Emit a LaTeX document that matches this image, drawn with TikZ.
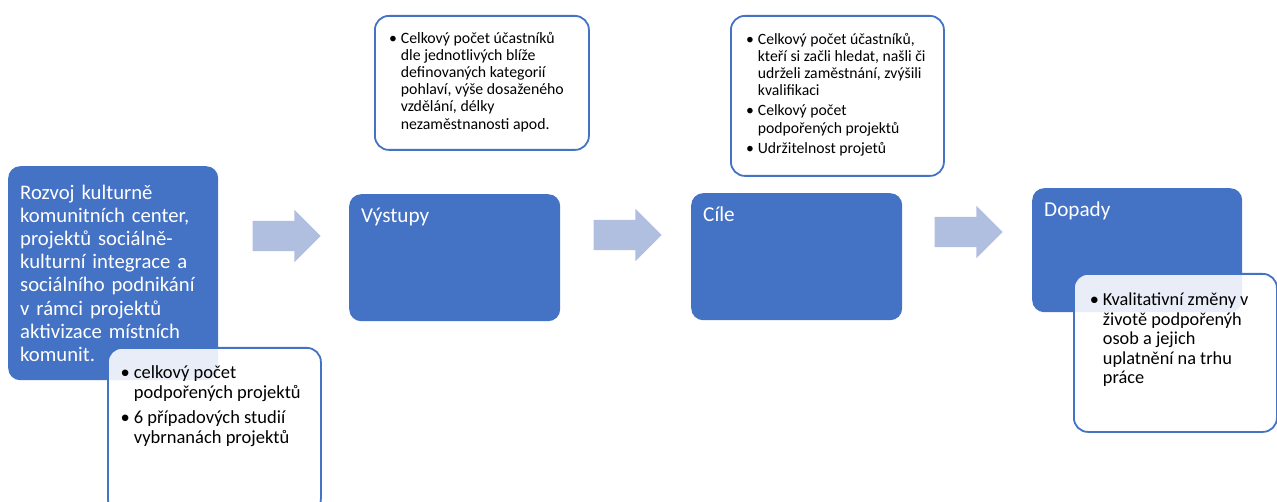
\documentclass[tikz,border=0pt]{standalone}
\usepackage{fontspec}
\setmainfont{Carlito}
\usepackage{enumitem}
\usepackage{tikz}
\usetikzlibrary{shapes.arrows, positioning}
\definecolor{stageblue}{HTML}{4472C4}
\definecolor{arrowblue}{HTML}{B0BEDF}
\tikzstyle{stage} = [rectangle, fill=stageblue, rounded corners=12pt, anchor=north west, inner sep=0pt, text=white]
\tikzstyle{note} = [rectangle, draw=stageblue, line width=1.8pt, fill=white, fill opacity=0.88, text opacity=1, rounded corners=14pt, anchor=north west, inner sep=0pt]
\tikzstyle{flowarrow} = [single arrow, fill=arrowblue, minimum height=68pt, minimum width=52pt, single arrow head extend=11pt, inner xsep=0pt, inner ysep=15pt]
\tikzstyle{heading} = [anchor=base west, inner sep=0pt, text=white, font=\fontsize{21.2}{24}\selectfont, xshift=12pt, yshift=-29pt]
\setlist[itemize]{label=\textbullet, topsep=0pt, partopsep=0pt, parsep=0pt, labelsep=4pt}
\newcommand{\notetext}[4]{\begin{minipage}[t][#2][t]{#1}\raggedright\vspace*{#3}#4\end{minipage}}

\begin{document}
\begin{tikzpicture}[x=1pt, y=-1pt]
            \useasboundingbox (0,0) rectangle (1277,502);
            % Nodes
            \node[stage, minimum width=210pt, minimum height=214pt, text width=186pt, align=left,
                  font=\fontsize{20.7}{23.2}\selectfont] (rozvoj) at (8,166)
                {Rozvoj kulturně\\ komunitních center,\\ projektů sociálně-\\ kulturní integrace a\\ sociálního podnikání\\ v rámci projektů\\ aktivizace místních\\ komunit.};
            \node[stage, minimum width=211pt, minimum height=127pt, label={[heading]north west:Výstupy}] (vystupy) at (349,194) {};
            \node[stage, minimum width=211pt, minimum height=127pt, label={[heading]north west:Cíle}] (cile) at (691,193) {};
            \node[stage, minimum width=210pt, minimum height=124pt, label={[heading]north west:Dopady}] (dopady) at (1032,188) {};

            % Arrows
            \node[flowarrow] (flow1) at (279,236) {};
            \node[flowarrow] (flow2) at (620,235) {};
            \node[flowarrow] (flow3) at (961,232) {};

            % Notes
            \node[note] (rozvojnote) at (107,347) {\notetext{213pt}{165pt}{18pt}{\fontsize{18.5}{20}\selectfont
                \begin{itemize}[leftmargin=26pt, itemsep=5pt]
                \item celkový počet\\ podpořených projektů
                \item 6 případových studií\\ vybrnanách projektů
                \end{itemize}}};
            \node[note] (vystupynote) at (374,15) {\notetext{214pt}{134pt}{16pt}{\fontsize{15.8}{17.2}\selectfont
                \begin{itemize}[leftmargin=26pt, itemsep=3pt]
                \item Celkový počet účastníků\\ dle jednotlivých blíže\\ definovaných kategorií\\ pohlaví, výše dosaženého\\ vzdělání, délky\\ nezaměstnanosti apod.
                \end{itemize}}};
            \node[note] (cilenote) at (730,15) {\notetext{213pt}{160pt}{17pt}{\fontsize{15.7}{17.2}\selectfont
                \begin{itemize}[leftmargin=27pt, itemsep=3pt]
                \item Celkový počet účastníků,\\ kteří si začli hledat, našli či\\ udrželi zaměstnání, zvýšili\\ kvalifikaci
                \item Celkový počet\\ podpořených projektů
                \item Udržitelnost projetů
                \end{itemize}}};
            \node[note] (dopadynote) at (1073,273) {\notetext{203pt}{158pt}{19pt}{\fontsize{18.3}{19.5}\selectfont
                \begin{itemize}[leftmargin=29pt, itemsep=3pt]
                \item Kvalitativní změny v\\ životě podpořenýh\\ osob a jejich\\ uplatnění na trhu\\ práce
                \end{itemize}}};
        \end{tikzpicture}
\end{document}
